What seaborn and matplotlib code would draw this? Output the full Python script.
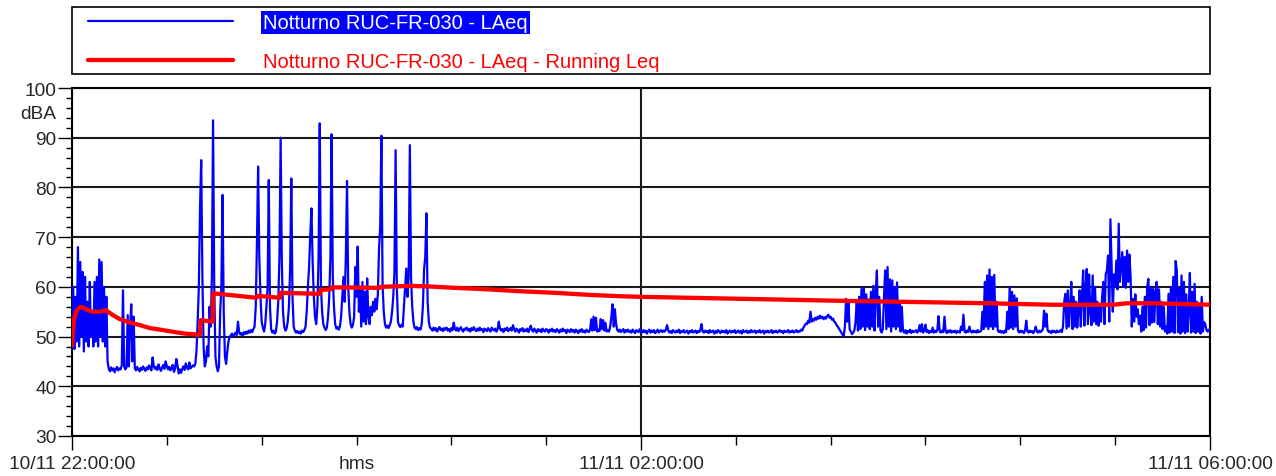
import numpy as np
import pandas as pd
import matplotlib
matplotlib.use("Agg")
import matplotlib.pyplot as plt
import seaborn as sns
from matplotlib.ticker import FixedLocator, FixedFormatter, MultipleLocator
from matplotlib.transforms import blended_transform_factory
from matplotlib.patches import Rectangle

# ---------------- data (LAeq sampled every 0.5 min from 22:00) ----------------
SAMPLE_MIN = 0.5

laeq_2200 = [48, 60, 47.5, 58, 49, 68, 48, 65, 50, 63, 47, 62, 49, 57, 48, 61, 50, 55, 48, 61,
             49, 62, 48, 65.5, 50, 65, 49, 60, 48, 58]
laeq_2215 = [45, 43.5, 43, 43.8, 43.2, 43.6, 42.8, 43.5, 43.9, 43.2, 43.6, 43.4, 44.2,
             59.3, 44, 43.4, 43.8,
             54.3, 44, 52, 56.5, 45, 54]
laeq_2226 = [43.6, 43.2, 43.9, 43.4, 43.0, 43.7, 43.3, 44.0, 43.5, 43.1,
             43.8, 43.4, 44.2, 43.6, 43.2, 45.8, 44.0, 43.5, 43.9, 43.3,
             44.4, 43.6, 43.1, 43.8, 44.3, 43.5, 45.0, 44.1, 43.4, 43.9,
             43.2, 43.7, 44.3, 42.9, 43.6, 45.5, 44.2, 42.6, 43.4, 42.7,
             43.5, 44.0, 43.3, 44.6, 43.8, 43.4, 44.8, 43.6, 43.9, 44.2,
             44.0]
laeq_2252 = [44.5, 47, 53, 60, 76, 85.5, 62, 48, 44, 45, 48, 46, 56, 52, 62, 93.5, 60, 46, 44, 43,
             44, 55, 60, 78.5, 55, 46, 44.5, 47, 49, 50]
laeq_2307 = [50.2, 50.6, 50.0, 50.4, 50.8, 50.3, 53.0, 50.9, 50.4, 50.7, 50.2, 50.9, 50.5, 51.0,
             50.6, 51.2, 50.8, 51.3, 50.9, 51.5, 52.0]
laeq_2317 = [56, 68.7, 84.2, 66, 58, 53, 51.8, 51.0, 52.5, 56, 60, 81.5, 56, 51.5,
             50.8, 51.2, 50.6, 51.0, 53, 57, 66, 90, 65, 55, 52, 51.2,
             51.6, 53, 56, 63.4, 81.8, 58, 52, 51.2, 50.8, 51.1, 50.7, 51.0, 50.6, 51.2]
laeq_2337 = [50.9, 51.3, 52, 55, 60, 64, 70.4, 75.8, 65, 58, 54, 52.5, 56, 66, 92.9, 60, 55, 52.5,
             51.8, 51.3, 51.8,
             54, 58, 66, 90.7, 62, 56, 52.5, 51.6, 51.9, 51.4, 52, 54,
             58, 62, 57, 66, 81.3, 60, 55, 52.5, 51.8, 52.3]
laeq_2359 = [54, 64, 58, 68.1, 55, 60, 52, 61, 53, 59, 52.5, 61.7,
             54, 52.5, 56, 54.3, 57, 55, 57.6, 55.5, 58.5, 67.7, 72, 90.4, 60.3,
             55, 52.5, 51.8, 52.2, 51.7, 52.3, 53, 55, 58, 63, 87.5, 60, 53, 52.2, 51.9, 52.4, 52.0,
             56, 60, 63.7, 58, 62, 88.5, 62, 56, 53, 51.8, 51.5, 51.9, 51.3, 51.7, 51.4,
             52.5, 56, 63.5, 66, 74.8, 57, 53, 51.8]
laeq_0031 = [51.6, 51.2, 51.8, 51.3, 51.7, 51.0, 51.5, 51.9, 51.3, 51.6, 51.1, 51.7, 51.4, 51.8, 51.2,
             51.5, 51.0, 51.7, 51.3, 52.8, 51.6, 51.2, 51.8, 51.1, 51.5, 51.9, 51.3, 51.0, 51.6, 51.4,
             51.8, 51.2, 51.5, 51.0, 51.7, 51.3, 51.9, 51.4, 51.1, 51.6, 51.2, 51.8, 51.3, 51.5, 50.9,
             51.6, 51.4, 51.1, 51.7, 51.3, 51.0, 51.8, 51.5, 51.2, 51.6, 51.0, 51.4, 53.0, 51.7, 51.2,
             51.5, 50.9, 51.6, 51.3, 51.8, 51.1, 51.4, 51.7, 51.2, 52.3, 51.5, 51.0, 51.6, 51.3, 50.8,
             51.5, 51.2, 51.7, 51.0, 51.4, 51.1, 51.6, 50.9, 51.5, 52.2, 51.3, 51.0, 51.6, 51.2, 50.8,
             51.5, 51.1, 51.4, 50.9, 51.6, 51.2, 51.0, 51.5, 51.3, 50.8, 51.4, 51.1, 51.6, 51.0, 51.3,
             50.9, 51.5, 51.2, 50.8, 51.4, 51.0, 51.6, 51.1, 51.3, 50.7, 51.4, 51.2, 50.9, 51.5, 51.0,
             51.3, 50.8, 51.4, 51.1, 50.7, 51.3, 51.0, 51.5, 50.9, 51.2, 50.8, 51.4, 51.1, 50.9, 51.3]
laeq_0139 = [53.5, 51.2, 54, 51.3, 53.8, 51.0, 51.4, 51.1, 53.5, 51.5, 53.3, 51.2, 52.8, 51.0, 51.3,
             51.0, 52, 54, 56.5, 52, 55.5, 52.5, 51.3,
             51.0, 51.4, 50.9, 51.2, 51.5, 50.8, 51.3, 51.0, 51.4, 50.9]
laeq_0155 = [51.2, 50.8, 51.4, 51.0, 50.7, 51.3, 51.1, 50.9, 51.5, 51.0, 50.8, 51.3, 50.9, 51.2, 50.6,
             51.1, 51.4, 50.8, 51.2, 50.9, 51.3, 50.7, 51.0, 51.4, 50.8, 51.1, 51.3, 50.9, 51.2, 51.0,
             51.4, 52.3, 51.2, 50.8, 51.1, 50.7, 51.3, 51.0, 50.8, 51.2, 50.9, 51.4, 50.7, 51.1, 50.9,
             51.3, 50.8, 51.0, 51.2, 50.6, 51.1, 50.9, 51.3, 50.8, 51.0, 51.2, 50.7, 51.1, 50.9, 51.3,
             52.5, 51.0, 50.8, 51.2, 50.9, 51.1, 50.7, 51.3, 50.9, 51.0, 51.2, 50.6, 51.1, 50.8, 51.3,
             51.0, 50.7, 51.2, 50.9, 51.1, 50.8, 51.3, 50.6, 51.0, 51.2, 50.8, 51.1, 50.9, 51.3, 50.7,
             51.0, 51.2, 50.8, 51.1, 50.6, 51.3, 50.9, 51.0, 51.2, 50.7, 51.1, 50.8, 51.3, 50.9, 51.0,
             51.2, 50.7, 51.1, 50.9, 51.3, 50.8, 51.0, 51.2, 50.6, 51.1, 50.9, 51.2, 50.8, 51.0, 51.3,
             50.7, 51.1, 50.9, 51.2, 50.8, 51.0, 51.3, 50.9, 51.1, 50.7, 51.2, 50.9, 51.0, 51.3, 50.8,
             51.1, 50.9, 51.2, 50.8, 51.0, 51.3, 50.9, 51.1, 51.0, 51.4, 51.2, 51.8, 52.2, 52.6]
laeq_0310 = [52.5, 53.2, 52.8, 55.0, 53.0, 53.5, 53.2, 53.8, 53.4, 54.0,
             53.6, 54.2, 53.7, 54.0, 53.5, 53.9, 53.6, 54.1, 54.4, 53.8,
             54.0, 53.4, 53.6, 53.0, 52.8, 52.3, 52.0, 51.6, 51.2, 50.8,
             50.4, 50.0, 52, 57.6, 53, 56.8, 51.5, 51.0, 50.5, 50.8,
             51.2]
laeq_0330 = [53, 57, 51.2, 58, 51.5, 59.6, 52, 59.9, 51.3, 58.5,
             52, 57.5, 51.5, 59, 52, 60.2, 51.2, 59, 63.3, 52,
             58, 51.3, 50.8, 51.5, 58, 63.3, 51.5, 64, 52, 61.5,
             51, 61.3, 52, 60, 51.5, 60.9, 52, 57, 51, 56,
             51.2]
laeq_0351 = [50.8, 51.3, 50.6, 51.1, 50.9, 51.4, 50.7, 51.2, 50.9, 51.0, 51.3, 50.8, 51.1, 52.3, 51.0,
             52.5, 50.8, 51.2, 52.4, 50.9, 51.3, 50.7, 51.1, 50.9, 51.8, 50.8, 51.2, 50.9, 51.4, 54.1,
             51.0, 50.8, 51.2, 50.9, 54.0, 51.1, 50.7, 51.2, 50.9, 51.3, 50.8, 51.1, 50.9, 51.2, 50.7,
             51.1, 51.0, 50.8, 52.0, 51.3, 54.4, 51.0, 50.8, 51.2, 50.9, 52.0, 51.1, 50.8, 51.2, 50.9,
             51.1, 50.8, 51.3, 50.9, 51.0, 51.2]
laeq_0424 = [55, 51.5, 61, 52, 62.3, 51.5, 63.5, 52, 62, 51.5, 62.4, 52, 57, 51.2,
             50.9, 51.2, 50.8, 51.1, 50.7, 51.2, 50.9,
             55, 51.5, 60, 51.8, 59, 51.5, 58.3, 52, 57.7, 51.2]
laeq_0439 = [50.8, 51.2, 50.9, 51.1, 50.7, 51.3, 53.2, 51.0, 50.8, 51.2, 50.9, 51.1, 50.7, 51.2, 52.0,
             51.0, 50.8, 51.2, 50.9, 51.1, 51.5, 55.2, 52.0, 54.6, 51.3, 50.9, 51.1, 50.7, 51.2, 50.9,
             51.1, 50.8, 51.2, 50.9, 51.0, 51.3, 50.9]
laeq_0458 = [52, 57, 58.6, 51.6, 59.3, 52, 56, 61, 51.5, 58,
             52, 57, 51.8, 55, 59.3, 52, 58, 63.3, 52.2, 60,
             63.6, 52.5, 62.5, 55, 52.3, 62.3, 53, 60, 52.5, 57,
             52.2, 56, 53, 58, 61, 52.5, 62.5, 63.3, 66.3, 53,
             73.6, 64, 55, 62.5]
laeq_0520 = [60, 65.3, 59.5, 72.7, 61, 64, 67, 60, 66, 59.8, 67.3, 61, 66.5, 62,
             52, 57.6, 53, 58.5, 54, 55.5, 52.5, 54.2]
laeq_0531 = [51, 56, 51.3, 58, 51.8, 60, 61.6, 52.3, 60, 52.8, 59.6, 52.9, 59, 61, 52.5, 59.5,
             52, 57, 51.5, 56, 51, 52]
laeq_0542 = [50.6, 58.6, 50.8, 60, 51, 62, 50.7, 65.2, 63.3, 50.9,
             59.6, 50.6, 62.3, 51, 61, 50.7, 58.5, 51, 55, 62.8,
             50.8, 59, 51, 60.6, 50.7, 57, 51, 56, 50.6, 58,
             51, 52.9, 52.5, 51.3, 51.0, 51.4, 51.2]

laeq = (laeq_2200 + laeq_2215 + laeq_2226 + laeq_2252 + laeq_2307 + laeq_2317 + laeq_2337
        + laeq_2359 + laeq_0031 + laeq_0139 + laeq_0155 + laeq_0310 + laeq_0330 + laeq_0351
        + laeq_0424 + laeq_0439 + laeq_0458 + laeq_0520 + laeq_0531 + laeq_0542)
assert len(laeq) == 961, len(laeq)

# running Leq (minutes after 22:00, dBA)
running_min = [0, 0.8, 2.1, 3.4, 4.6, 6.3, 8.4, 11.8, 14.3, 17.3,
               20.2, 24.5, 28.7, 32.9, 37.1, 43.4, 47.7, 53.1, 54.0, 54.3,
               59.3, 59.6, 77.9, 78.2, 87.7, 88.0, 104.6, 104.9, 109.2, 109.5,
               129.9, 130.3, 142.6, 149.7, 161.5, 175.5, 189.8, 203.7, 217.6, 232.0,
               239.6, 281.8, 323.9, 361.9, 385.9, 413.8, 439.1, 445.0, 456.0, 480]
running_db = [48.2, 53.5, 55.3, 55.9, 55.9, 55.4, 55.0, 55.0, 55.3, 54.3,
              53.5, 52.8, 52.3, 51.7, 51.4, 50.9, 50.6, 50.4, 50.4, 53.3,
              53.0, 58.7, 57.8, 58.2, 57.8, 58.8, 58.6, 59.4, 59.5, 59.9,
              59.8, 60.0, 60.2, 60.1, 59.8, 59.5, 59.1, 58.8, 58.4, 58.1,
              58.0, 57.6, 57.2, 56.9, 56.7, 56.4, 56.4, 56.7, 56.7, 56.4]

series_names = ["Notturno RUC-FR-030 - LAeq", "Notturno RUC-FR-030 - LAeq - Running Leq"]
x_major_minutes = [0, 240, 480]
x_major_labels = ["10/11 22:00:00", "11/11 02:00:00", "11/11 06:00:00"]
x_minor_minutes = [40, 80, 120, 160, 200, 280, 320, 360, 400, 440]
x_minor_labels = ["", "", "hms", "", "", "", "", "", "", ""]
y_ticks = [30, 40, 50, 60, 70, 80, 90, 100]
y_unit = "dBA"

df_laeq = pd.DataFrame({"minute": np.arange(len(laeq)) * SAMPLE_MIN, "dBA": laeq})
df_run = pd.DataFrame({"minute": running_min, "dBA": running_db})

# ---------------- style ----------------
sns.set_style("ticks")
plt.rcParams["font.family"] = ["Liberation Sans", "DejaVu Sans"]

W, H = 1276, 477
fig = plt.figure(figsize=(W / 100, H / 100), dpi=100)
L, R, T, B = 72, 1210, 89, 437
ax = fig.add_axes([L / W, 1 - B / H, (R - L) / W, (B - T) / H])

BLUE = "#0000ff"
RED = "#ff0000"
sns.lineplot(data=df_laeq, x="minute", y="dBA", ax=ax, color=BLUE, linewidth=1.6,
             estimator=None, sort=False, label=series_names[0], zorder=3)
sns.lineplot(data=df_run, x="minute", y="dBA", ax=ax, color=RED, linewidth=3.1,
             estimator=None, sort=False, label=series_names[1], zorder=4)

ax.set_xlim(0, 480)
ax.set_ylim(30, 100)
ax.set_xlabel("")
ax.set_ylabel("")

ax.xaxis.set_major_locator(FixedLocator(x_major_minutes))
ax.xaxis.set_major_formatter(FixedFormatter(x_major_labels))
ax.xaxis.set_minor_locator(FixedLocator(x_minor_minutes))
ax.xaxis.set_minor_formatter(FixedFormatter(x_minor_labels))
ax.yaxis.set_major_locator(FixedLocator(y_ticks))
ax.yaxis.set_minor_locator(MultipleLocator(2))

FS = 13.8
ax.tick_params(axis="x", which="major", length=10, width=1, color="black", pad=4,
               labelsize=FS, direction="out", bottom=True)
ax.tick_params(axis="x", which="minor", length=6.5, width=1, color="black", pad=7.5,
               labelsize=FS, direction="out", bottom=True)
ax.tick_params(axis="y", which="major", length=10, width=1, color="black", pad=1,
               labelsize=FS, direction="out", left=True)
ax.tick_params(axis="y", which="minor", length=4.3, width=1, color="black",
               direction="out", left=True)

ax.grid(True, which="major", axis="both", color="#1a1a1a", linewidth=1.5)
ax.set_axisbelow(True)
for s in ax.spines.values():
    s.set_visible(True)
    s.set_color("black")
    s.set_linewidth(1.5)

ax.text(-0.0135, 94.8, y_unit, transform=blended_transform_factory(ax.transAxes, ax.transData),
        ha="right", va="center", fontsize=FS)

# legend box across the top
frame = Rectangle((L / W, 1 - 75 / H), (R - L) / W, (75 - 8) / H, transform=fig.transFigure,
                  facecolor="white", edgecolor="black", linewidth=1.2, zorder=1, clip_on=False)
ax.add_patch(frame)
handles, labels = ax.get_legend_handles_labels()
leg = ax.legend(handles, labels, loc="upper left",
                bbox_to_anchor=((88 - L) / (R - L), (B - 14) / (B - T)),
                frameon=False, fontsize=14.5, handlelength=7.2, handletextpad=1.5,
                borderpad=0, borderaxespad=0, labelspacing=1.0)
leg.set_zorder(6)
t0, t1 = leg.get_texts()
t0.set_color("white")
t0.set_bbox(dict(facecolor=BLUE, edgecolor="none", pad=1.5))
t1.set_color(RED)

fig.savefig("out.png", dpi=100)
